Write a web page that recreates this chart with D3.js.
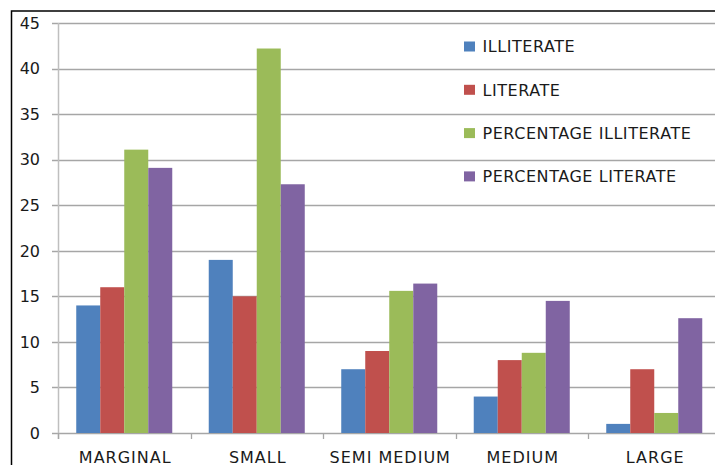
<!DOCTYPE html>
<html>
<head>
<meta charset="utf-8">
<script src="https://cdn.jsdelivr.net/npm/d3@7"></script>
<style>
  html, body { margin: 0; padding: 0; background: #fff; }
  svg { display: block; }
  text { font-family: "DejaVu Sans", Verdana, sans-serif; fill: #1a1a1a; }
</style>
</head>
<body>
<svg id="chart" width="715" height="465"></svg>
<script>
// Land-holding classes on the x axis
const categories = ["MARGINAL", "SMALL", "SEMI MEDIUM", "MEDIUM", "LARGE"];

// Series names and colours
const seriesNames = ["ILLITERATE", "LITERATE", "PERCENTAGE ILLITERATE", "PERCENTAGE LITERATE"];
const seriesColors = ["#4F81BD", "#C0504D", "#9BBB59", "#8064A2"];

// Values per series, one per category
const illiterate = [14, 19, 7, 4, 1];
const literate = [16, 15, 9, 8, 7];
const pctIlliterate = [31.1, 42.2, 15.6, 8.8, 2.2];
const pctLiterate = [29.1, 27.3, 16.4, 14.5, 12.6];

// Y axis ticks
const yTicks = [0, 5, 10, 15, 20, 25, 30, 35, 40, 45];

const seriesValues = [illiterate, literate, pctIlliterate, pctLiterate];

const svg = d3.select("#chart");

// Plot frame
const plot = { left: 58, right: 720.5, top: 23, bottom: 433 };

// Outer chart border
svg.append("rect")
  .attr("x", 11.5).attr("y", 11)
  .attr("width", 760).attr("height", 500)
  .attr("fill", "none")
  .attr("stroke", "#000")
  .attr("stroke-width", 1.5);

const x = d3.scaleBand().domain(categories).range([plot.left, plot.right]).paddingInner(0).paddingOuter(0);
const x1 = d3.scaleBand().domain(d3.range(seriesNames.length))
  .range([0, x.bandwidth()]).paddingInner(0).paddingOuter(0.76);
const y = d3.scaleLinear().domain([0, 45]).range([plot.bottom, plot.top]);

// Horizontal gridlines with short tick stubs on the left
svg.append("g").selectAll("line").data(yTicks).join("line")
  .attr("x1", plot.left - 6).attr("x2", plot.right)
  .attr("y1", d => Math.round(y(d)) + 0.5).attr("y2", d => Math.round(y(d)) + 0.5)
  .attr("stroke", "#a6a6a6").attr("stroke-width", 1.3);

// Y tick labels
svg.append("g").selectAll("text").data(yTicks).join("text")
  .attr("x", 40).attr("y", d => y(d))
  .attr("dy", "0.36em")
  .attr("text-anchor", "end")
  .attr("font-size", 16)
  .text(d => d);

// Bars
const groups = svg.append("g").selectAll("g").data(categories).join("g")
  .attr("transform", c => `translate(${x(c)},0)`);
groups.selectAll("rect")
  .data((c, ci) => seriesValues.map((vals, si) => ({ si, v: vals[ci] })))
  .join("rect")
  .attr("x", d => x1(d.si))
  .attr("width", x1.bandwidth())
  .attr("y", d => y(d.v))
  .attr("height", d => y(0) - y(d.v))
  .attr("fill", d => seriesColors[d.si]);

// Vertical axis line
svg.append("line")
  .attr("x1", plot.left + 0.5).attr("x2", plot.left + 0.5)
  .attr("y1", plot.top).attr("y2", plot.bottom + 6)
  .attr("stroke", "#bfbfbf").attr("stroke-width", 1.5);

// Category boundary ticks below the baseline
const catTicks = categories.map(c => x(c)).concat([plot.right]);
svg.append("g").selectAll("line").data(catTicks).join("line")
  .attr("x1", d => Math.round(d) + 0.5).attr("x2", d => Math.round(d) + 0.5)
  .attr("y1", plot.bottom).attr("y2", plot.bottom + 6)
  .attr("stroke", "#a6a6a6").attr("stroke-width", 1.3);

// Category labels
svg.append("g").selectAll("text").data(categories).join("text")
  .attr("x", c => x(c) + x.bandwidth() / 2 + 1)
  .attr("y", 462.5)
  .attr("text-anchor", "middle")
  .attr("font-size", 16)
  .attr("letter-spacing", "1px")
  .text(c => c);

// Legend
const legend = svg.append("g").selectAll("g").data(seriesNames).join("g")
  .attr("transform", (d, i) => `translate(464,${46.5 + i * 43.3})`);
legend.append("rect")
  .attr("x", 0).attr("y", -5)
  .attr("width", 11).attr("height", 10)
  .attr("fill", (d, i) => seriesColors[i]);
legend.append("text")
  .attr("x", 18.5).attr("y", 0)
  .attr("dy", "0.36em")
  .attr("font-size", 16)
  .attr("letter-spacing", "0.55px")
  .text(d => d);
</script>
</body>
</html>
